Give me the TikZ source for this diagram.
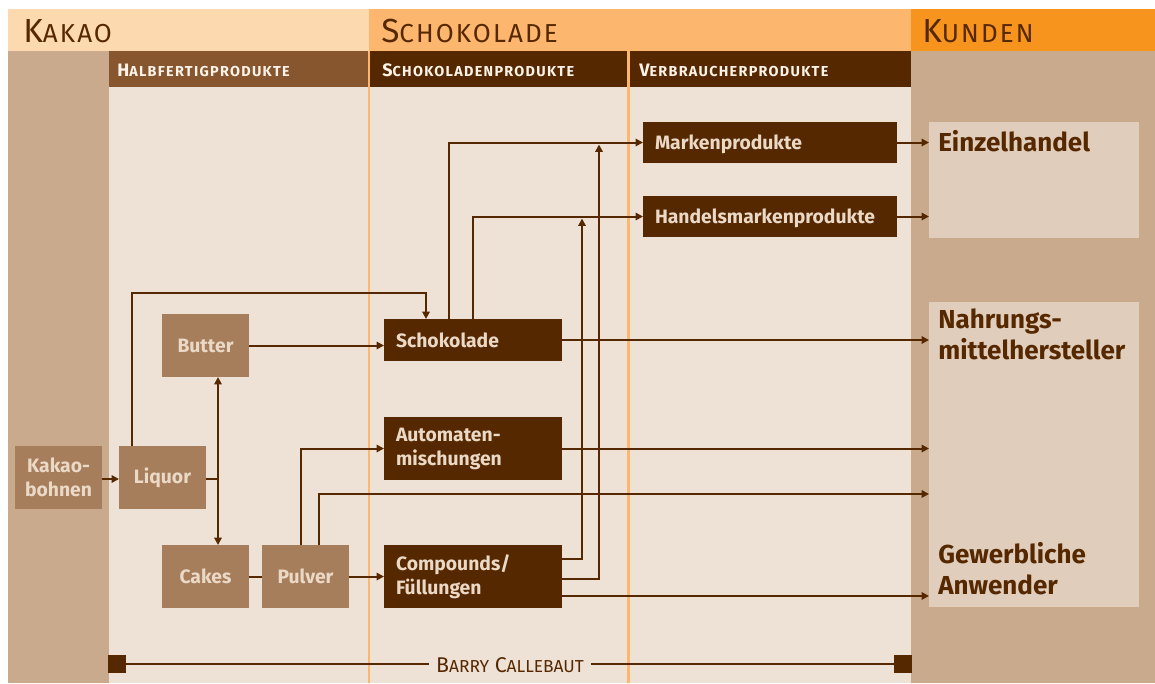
\documentclass[tikz,border=0pt]{standalone}
\usepackage{fontspec}
\setmainfont{Fira Sans}
\usetikzlibrary{arrows.meta}

\definecolor{kakaohell}{HTML}{FDD9B0}
\definecolor{schokohell}{HTML}{FCB66E}
\definecolor{kundenorange}{HTML}{F7941E}
\definecolor{hellbraun}{HTML}{C9AA8D}
\definecolor{grund}{HTML}{EEE2D7}
\definecolor{mittelbraun}{HTML}{87562F}
\definecolor{dunkelbraun}{HTML}{562800}
\definecolor{halbbraun}{HTML}{A67E5B}
\definecolor{kundenfeld}{HTML}{E0CDBB}
\definecolor{schrifthell}{HTML}{EBD9C7}
\definecolor{schriftweiss}{HTML}{FDF3E8}

\newcommand\kap[3]{#1{\fontsize{#3}{#3}\selectfont #2}}

\tikzstyle{halbprodukt}=[fill=halbbraun,text=schrifthell,font=\bfseries\fontsize{14.5}{18}\selectfont,minimum width=65.25pt,minimum height=47.25pt,inner sep=0pt,outer sep=0pt,align=center]
\tikzstyle{produkt}=[fill=dunkelbraun,text=schrifthell,font=\bfseries\fontsize{14.5}{18}\selectfont,text width=115.5pt,inner xsep=9pt,inner ysep=0pt,outer sep=0pt,align=left]
\tikzstyle{endprodukt}=[produkt,text width=172.5pt,text depth=0pt,minimum height=30.75pt]
\tikzstyle{kunde}=[fill=kundenfeld,minimum width=157.5pt,inner sep=0pt,outer sep=0pt]
\tikzstyle{kundentext}=[text=dunkelbraun,font=\bfseries\fontsize{19.5}{23}\selectfont,inner sep=0pt,align=left]
\tikzstyle{kopf}=[text=dunkelbraun,font=\addfontfeatures{LetterSpace=8}\fontsize{25}{25}\selectfont,inner sep=0pt,anchor=base west]
\tikzstyle{unterkopf}=[text=schriftweiss,font=\addfontfeatures{LetterSpace=9}\bfseries\fontsize{13.5}{13.5}\selectfont,inner sep=0pt,anchor=base west]
\tikzstyle{linie}=[draw=dunkelbraun,line width=1.5pt]
\tikzstyle{pfeil}=[linie,-{Triangle[length=5.5pt,width=5.5pt]}]
\tikzstyle{endpunkt}=[fill=dunkelbraun,minimum size=13.5pt,inner sep=0pt]

\begin{document}
\begin{tikzpicture}[x=0.75pt,y=-0.75pt]
  \useasboundingbox (0,0) rectangle (1155,683);

  % Flaechen
  \fill[kakaohell] (8,9) rectangle (369,51);
  \fill[schokohell] (369,9) rectangle (911,51);
  \fill[kundenorange] (911,9) rectangle (1155,51);
  \fill[hellbraun] (8,51) rectangle (108.5,683);
  \fill[hellbraun] (911,51) rectangle (1155,683);
  \fill[grund] (108.5,87) rectangle (911,683);
  \fill[mittelbraun] (108.5,51) rectangle (369,87);
  \fill[dunkelbraun] (369,51) rectangle (911,87);
  \foreach \x in {369,628.5}{
    \draw[schokohell,line width=2pt] (\x,51) -- (\x,683);
  }

  % Kopfzeilen
  \node (kakao)[kopf] at (23,42) {\kap{K}{AKAO}{19.5}};
  \node (schokolade)[kopf] at (381,42) {\kap{S}{CHOKOLADE}{19.5}};
  \node (kunden)[kopf] at (922,42) {\kap{K}{UNDEN}{19.5}};
  \node (halbfertig)[unterkopf] at (117,76) {\kap{H}{ALBFERTIGPRODUKTE}{10.8}};
  \node (schokoprod)[unterkopf] at (382,76) {\kap{S}{CHOKOLADENPRODUKTE}{10.8}};
  \node (verbraucher)[unterkopf] at (639,76) {\kap{V}{ERBRAUCHERPRODUKTE}{10.8}};

  % Halbfertigprodukte
  \node (bohnen)[halbprodukt] at (58.5,477.5) {Kakao-\\bohnen};
  \node (liquor)[halbprodukt] at (162.5,477.5) {Liquor};
  \node (butter)[halbprodukt] at (205.5,345.5) {Butter};
  \node (cakes)[halbprodukt] at (205.5,576.5) {Cakes};
  \node (pulver)[halbprodukt] at (305.5,576.5) {Pulver};

  % Schokoladenprodukte
  \node (schoko)[produkt,minimum height=31.5pt] at (473,340) {Schokolade};
  \node (automat)[produkt,minimum height=47.25pt] at (473,448.5) {Automaten-\\mischungen};
  \node (compound)[produkt,minimum height=47.25pt] at (473,576.5) {Compounds/\\Füllungen};

  % Verbraucherprodukte
  \node (marken)[endprodukt] at (770,142.5) {Markenprodukte};
  \node (handels)[endprodukt] at (770,216.5) {Handelsmarkenprodukte};

  % Kunden
  \node (einzel)[kunde,minimum height=87pt] at (1034,180) {};
  \node (nahrung)[kunde,minimum height=228.75pt] at (1034,454.5) {};
  \node (einzeltext)[kundentext,anchor=base west] at (938,151) {Einzelhandel};
  \node (nahrungtext)[kundentext,anchor=north west] at (938,309) {Nahrungs-\\mittelhersteller};
  \node (gewerbetext)[kundentext,anchor=south west] at (938,595) {Gewerbliche\\Anwender};

  \coordinate (lq) at (218,479);
  \coordinate (knick) at (426,293);
  \coordinate (p1) at ([xshift=29.25pt]pulver.north west);
  \coordinate (p2) at ([xshift=42.75pt]pulver.north west);
  \coordinate (p2ende) at ([yshift=-29.6pt]nahrung.west);
  \coordinate (c3) at ([yshift=-14.6pt]compound.east);

    \draw[pfeil] (bohnen.east |- lq) -- (liquor.west |- lq);
    \draw[linie] (liquor.east |- lq) -- (lq);
    \draw[pfeil] (lq) -- (lq |- butter.south);
    \draw[pfeil] (lq) -- (lq |- cakes.north);
    \draw[pfeil] ([xshift=9.75pt]liquor.north west) |- (knick) -- (knick |- schoko.north);
    \draw[pfeil] (butter.east) -- (butter.east -| schoko.west);
    \draw[linie] (cakes) -- (pulver);
    \draw[pfeil] (pulver.east) -- (pulver.east -| compound.west);
    \draw[pfeil] (p1) |- (automat.west);
    \draw[pfeil] (p2) |- (p2ende);

    \draw[pfeil] ([xshift=48.75pt]schoko.north west) |- (marken.west);
    \draw[pfeil] (schoko.north) |- (handels.west);
    \draw[pfeil] ([yshift=13.1pt]compound.east) -| ([xshift=-45.75pt,yshift=-1.5pt]handels.west);
    \draw[pfeil] ([yshift=-1.9pt]compound.east) -| ([xshift=-33pt,yshift=-1.5pt]marken.west);

    \draw[pfeil] (marken.east) -- (marken.east -| einzel.west);
    \draw[pfeil] (handels.east) -- (handels.east -| einzel.west);
    \draw[pfeil] (schoko.east) -- (schoko.east -| nahrung.west);
    \draw[pfeil] (automat.east) -- (automat.east -| nahrung.west);
    \draw[pfeil] (c3) -- (c3 -| nahrung.west);

  % Barry Callebaut
  \node (links)[endpunkt] at (117,664) {};
  \node (rechts)[endpunkt] at (903,664) {};
  \node (barry)[text=dunkelbraun,font=\fontsize{16}{16}\selectfont,inner xsep=5pt,anchor=base] at (510,672) {\kap{B}{ARRY}{13} \kap{C}{ALLEBAUT}{13}};
    \draw[linie] (links) -- (links -| barry.west);
    \draw[linie] (links -| barry.east) -- (rechts);
\end{tikzpicture}
\end{document}
